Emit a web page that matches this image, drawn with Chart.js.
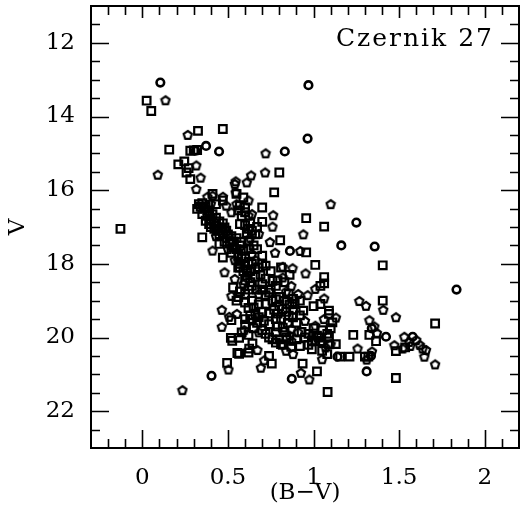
<!DOCTYPE html>
<html>
<head>
<meta charset="utf-8">
<script src="https://cdn.jsdelivr.net/npm/chart.js@4.4.1/dist/chart.umd.min.js"></script>
<style>
  html, body { margin: 0; padding: 0; background: #fff; }
  #cmd { display: block; }
</style>
</head>
<body>
<canvas id="cmd" width="521" height="529" style="width:521px;height:529px"></canvas>
<script>
(function () {
  'use strict';

  // Czernik 27 colour-magnitude diagram: (B-V) vs V
  var CLUSTER = 'Czernik 27';
  var X_LABELS = [0, 0.5, 1, 1.5, 2];
  var Y_LABELS = [12, 14, 16, 18, 20, 22];

  // open squares
  var SQ_BV = [0.025,0.052,-0.128,0.325,0.47,0.157,0.28,0.30,0.32,0.21,0.245,0.27,0.258,0.28,0.80,0.77,0.957,1.062,1.404,1.01,0.957,0.805,1.062,1.062,1.0,1.404,1.71,1.232,1.365,1.326,1.30,1.32,1.155,1.21,1.481,1.535,1.481,1.082,1.02,0.936,0.495,0.756,0.555,0.565,0.517,0.565,0.62,0.624,0.643,
    0.47,0.33,0.35,0.55,0.57,0.57,0.39,0.48,0.45,0.62,0.47,0.64,0.35,0.37,
    0.36,0.38,0.40,0.42,0.40,0.46,0.47,0.5,0.51,0.53,0.55,0.52,0.56,0.58,0.57,0.6,0.59,0.45,0.48,0.34,0.38,0.42,0.44,
    0.41,0.32,0.43,0.59,0.60,0.70,0.70,
    0.70,0.70,0.63,0.64,0.66,0.65,0.67,0.62,0.68,0.63,0.62,0.67,
    0.53,0.55,0.60,0.64,0.52,0.58,0.64,0.65,0.57,0.66,0.61,
    0.66,0.68,0.70,0.63,0.67,0.71,
    0.72,0.81,1.04,1.04,1.09,1.11,0.97,1.03,1.09,0.92,0.81,0.74,0.855,0.89,0.76,0.70,0.74,0.78,0.72,0.64,0.82,0.855,0.78,0.82,0.74,0.84,0.78,0.94,1.13,0.99,
    0.80,0.83,0.86,0.80,0.84,0.79,0.81,0.85,0.79,0.83,0.80,0.77,0.88,0.75,0.78,0.72,0.69,0.75,0.88,0.92,
    0.95,0.99,1.02,0.97,1.0,
    0.78,1.05,1.08,1.01,1.09,0.62,0.74,0.525,1.09,
    0.35,0.37,0.39,0.41,0.43,0.45,0.47,0.49,0.52,0.55,0.57,0.59,0.60,0.53,0.56,0.62,0.58,0.61,0.60,0.58,0.60,0.56,
    0.60,0.63,0.66,0.67,0.62,0.57,0.56,0.60,0.62,0.60,0.60,0.65,0.70,0.72,0.76,0.82,0.87,0.90,0.93,0.90,0.88,0.92,0.76,0.74,0.72,0.70,0.68,0.79,0.83,0.86,
    1.05,1.08,1.04,1.00,1.10];
  var SQ_V = [13.57,13.85,17.05,14.39,14.34,14.9,14.93,14.92,14.91,15.3,15.22,15.4,15.52,15.7,15.52,16.06,16.76,16.99,18.04,18.03,17.69,17.36,18.36,18.53,19.15,19.0,19.62,19.93,20.1,19.93,20.52,20.52,20.52,20.52,20.37,20.27,21.1,21.48,20.92,20.71,20.69,20.71,20.42,20.44,20.01,20.01,19.93,20.3,20.16,
    16.28,16.38,16.65,16.1,16.42,16.92,16.92,17.01,17.46,17.37,17.83,18.0,17.28,16.83,
    16.5,16.7,16.8,16.9,17.0,17.05,17.15,17.2,17.45,17.4,17.6,17.7,17.75,17.85,18.0,18.05,18.2,17.2,17.4,16.45,16.55,17.05,17.1,
    16.1,16.51,16.38,16.2,16.47,16.47,16.86,
    17.78,18.0,16.9,17.1,17.2,17.5,17.6,17.6,18.1,18.2,17.05,17.0,
    18.64,19.0,18.82,18.6,19.53,19.86,19.5,19.18,18.1,18.14,18.32,
    19.35,19.45,19.3,19.4,19.6,19.55,
    18.05,18.1,18.6,19.09,19.27,19.59,19.9,20.0,20.0,20.23,20.18,20.0,18.82,19.09,18.46,18.55,18.78,18.96,19.09,19.0,19.23,19.41,19.5,19.73,19.64,20.0,19.86,19.27,20.18,20.32,
    18.9,19.0,19.1,19.15,19.3,19.35,19.5,19.6,19.7,19.85,20.05,19.25,19.25,18.7,18.6,18.4,18.3,18.2,18.95,19.0,
    20.0,20.08,19.95,20.2,19.75,
    20.14,20.36,20.45,20.09,20.18,20.41,20.5,20.09,19.36,
    16.35,16.45,16.6,16.65,16.75,16.85,16.9,17.1,17.25,17.3,17.5,17.65,17.8,17.55,18.1,17.95,17.4,17.2,16.95,16.7,16.6,16.55,
    18.45,18.5,18.35,18.7,18.7,18.75,18.9,19.05,19.2,19.5,19.65,19.75,19.8,19.9,20.05,20.2,20.25,20.05,19.85,19.6,19.45,19.4,19.0,19.35,18.85,18.7,19.1,18.45,18.5,18.3,
    19.8,19.9,20.1,19.95,19.75];

  // open pentagons
  var PE_BV = [0.135,0.265,0.72,0.09,0.315,0.34,0.315,0.717,0.635,0.61,0.545,1.10,0.94,0.922,0.745,0.764,0.76,0.775,0.953,0.877,1.01,0.965,1.062,1.267,1.306,1.407,1.481,1.326,1.355,1.37,1.341,1.31,1.257,1.472,1.52,1.53,1.559,1.60,1.62,1.637,1.657,1.647,1.565,1.71,0.975,0.926,0.234,0.503,0.692,0.711,0.595,0.464,0.464,0.507,0.552,0.672,
    0.41,0.40,0.52,0.54,0.62,0.64,0.43,0.52,0.54,0.64,0.56,0.41,0.44,0.49,0.5,0.54,0.61,0.43,
    0.38,0.47,0.49,0.55,0.545,0.62,
    0.68,0.82,0.63,0.66,
    0.48,0.52,0.59,0.54,
    1.06,1.01,0.91,0.87,0.68,0.87,0.91,0.82,0.68,0.87,0.95,1.07,0.86,0.84,1.05,
    0.84,0.88,1.05,1.13,1.10];
  var PE_V = [13.56,14.5,15.0,15.58,15.33,15.66,15.97,15.52,15.6,15.79,15.76,16.38,17.2,17.65,17.41,16.68,16.99,17.7,18.26,18.12,18.68,18.85,18.94,19.01,19.14,19.25,19.45,19.53,19.7,19.88,20.38,20.6,20.3,20.21,20.3,19.98,20.12,20.07,20.2,20.3,20.34,20.52,20.23,20.73,21.14,20.96,21.43,20.87,20.82,20.62,19.8,19.71,19.25,19.44,19.36,20.34,
    16.15,16.37,16.6,15.83,16.28,16.65,17.1,17.37,17.55,17.73,17.92,17.64,16.95,17.3,17.6,17.9,18.15,17.25,
    16.18,16.18,16.42,16.38,16.06,16.69,
    17.19,18.08,17.3,17.9,
    18.23,18.87,18.55,18.41,
    19.5,19.68,19.86,20.09,19.86,18.6,18.82,18.37,18.82,19.77,19.55,20.27,19.95,18.75,20.15,
    20.36,20.45,20.59,19.46,20.18];

  // open circles
  var CI_BV = [0.105,0.97,0.31,0.372,0.448,0.965,0.832,1.25,1.162,1.357,1.835,0.862,1.423,1.34,1.335,1.14,1.579,1.31,0.873,0.404];
  var CI_V = [13.08,13.15,14.93,14.8,14.95,14.6,14.95,16.88,17.5,17.53,18.7,17.65,19.98,19.75,20.5,20.52,19.98,20.92,21.12,21.04];

  function pairs(xs, ys) {
    return xs.map(function (x, i) { return { x: x, y: ys[i] }; });
  }

  function pentagon() {
    var c = document.createElement('canvas');
    c.width = 12; c.height = 12;
    var g = c.getContext('2d');
    g.strokeStyle = '#000';
    g.lineWidth = 2.2;
    g.beginPath();
    for (var k = 0; k < 5; k++) {
      var a = -Math.PI / 2 + k * 2 * Math.PI / 5;
      var px = 6 + 4.3 * Math.cos(a), py = 6.3 + 4.3 * Math.sin(a);
      if (k === 0) g.moveTo(px, py); else g.lineTo(px, py);
    }
    g.closePath();
    g.stroke();
    return c;
  }

  var FONT = 'DejaVu Serif';

  function noPad(s) { s.paddingTop = 0; s.paddingBottom = 0; s.paddingLeft = 0; s.paddingRight = 0; }

  function fmt(v) { return String(v); }

  // frame + inward ticks on all four sides, plus the cluster name
  var frameTicks = {
    id: 'frameTicks',
    afterDraw: function (chart) {
      var a = chart.chartArea, ctx = chart.ctx;
      var xs = chart.scales.x, ys = chart.scales.y;
      ctx.save();
      ctx.strokeStyle = '#000';
      ctx.lineWidth = 2;
      ctx.strokeRect(a.left, a.top, a.right - a.left, a.bottom - a.top);
      ctx.lineWidth = 1.6;
      ctx.beginPath();
      var v, p, len, i;
      for (i = Math.ceil(xs.min / 0.1 - 1e-6); i <= Math.floor(xs.max / 0.1 + 1e-6); i++) {
        v = i * 0.1;
        p = Math.round(xs.getPixelForValue(v)) + 0.5;
        if (p <= a.left + 1 || p >= a.right - 1) continue;
        len = (i % 5 === 0) ? 18 : 9;
        ctx.moveTo(p, a.bottom); ctx.lineTo(p, a.bottom - len);
        ctx.moveTo(p, a.top); ctx.lineTo(p, a.top + (i % 5 === 0 ? 12 : 9));
      }
      for (i = Math.ceil(ys.min / 0.5 - 1e-6); i <= Math.floor(ys.max / 0.5 + 1e-6); i++) {
        v = i * 0.5;
        p = Math.round(ys.getPixelForValue(v)) + 0.5;
        if (p <= a.top + 1 || p >= a.bottom - 1) continue;
        len = (i % 4 === 0) ? 18 : 9;
        ctx.moveTo(a.left, p); ctx.lineTo(a.left + len, p);
        ctx.moveTo(a.right, p); ctx.lineTo(a.right - len, p);
      }
      ctx.stroke();

      ctx.fillStyle = '#000';
      ctx.font = '25px "' + FONT + '"';
      ctx.letterSpacing = '2px';
      ctx.textAlign = 'right';
      ctx.textBaseline = 'middle';
      ctx.fillText(CLUSTER, a.right - 25, a.top + 33);
      ctx.restore();
    }
  };

  var tickFont = { family: FONT, size: 23 };

  new Chart(document.getElementById('cmd'), {
    type: 'scatter',
    data: {
      datasets: [
        { label: 'squares', data: pairs(SQ_BV, SQ_V), pointStyle: 'rect', pointRadius: 5.4,
          borderColor: '#000', borderWidth: 2.2, backgroundColor: 'rgba(0,0,0,0)' },
        { label: 'pentagons', data: pairs(PE_BV, PE_V), pointStyle: pentagon(), pointRadius: 5,
          borderColor: '#000', backgroundColor: 'rgba(0,0,0,0)' },
        { label: 'circles', data: pairs(CI_BV, CI_V), pointStyle: 'circle', pointRadius: 3.8,
          borderColor: '#000', borderWidth: 2.6, backgroundColor: 'rgba(0,0,0,0)' }
      ]
    },
    options: {
      responsive: false,
      animation: false,
      devicePixelRatio: 1,
      layout: { autoPadding: false, padding: { top: 6, right: 2, left: 0, bottom: 0 } },
      plugins: { legend: { display: false }, tooltip: { enabled: false } },
      scales: {
        x: {
          type: 'linear', min: -0.3, max: 2.2,
          grid: { display: false, drawTicks: false },
          border: { display: false },
          afterBuildTicks: function (s) { s.ticks = X_LABELS.map(function (v) { return { value: v }; }); },
          afterFit: function (s) { s.height = 81; noPad(s); },
          ticks: { color: '#000', font: tickFont, padding: 16, maxRotation: 0, autoSkip: false, callback: fmt },
          title: { display: true, text: '(B\u2212V)', color: '#000', font: tickFont, padding: { top: 0, bottom: 22 } }
        },
        y: {
          type: 'linear', min: 11, max: 23, reverse: true,
          grid: { display: false, drawTicks: false },
          border: { display: false },
          afterBuildTicks: function (s) { s.ticks = Y_LABELS.map(function (v) { return { value: v }; }); },
          afterFit: function (s) { s.width = 91; noPad(s); },
          ticks: { color: '#000', font: tickFont, padding: 16, autoSkip: false, callback: fmt },
          title: { display: true, text: 'V', color: '#000', font: tickFont, padding: { top: 4, bottom: 0 } }
        }
      }
    },
    plugins: [frameTicks]
  });
})();
</script>
</body>
</html>
